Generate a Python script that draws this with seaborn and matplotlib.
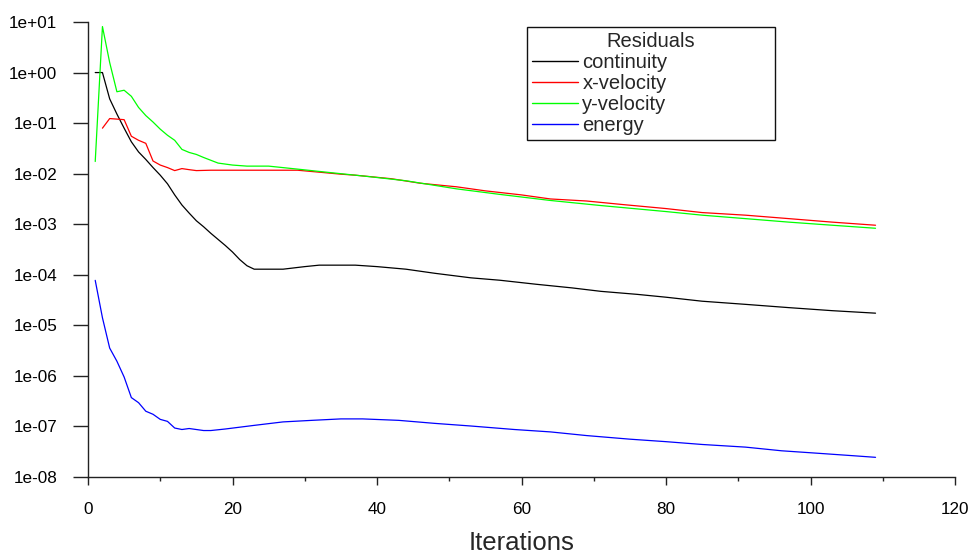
import matplotlib
matplotlib.use("Agg")
import matplotlib.pyplot as plt
import matplotlib.ticker as mticker
import seaborn as sns
import pandas as pd

# Residual histories (iteration, scaled residual)
continuity_iter = [1, 2, 3, 4, 5, 6, 7, 8, 9, 10, 11, 12, 13, 14, 15, 16, 17, 18, 19, 20,
                   21, 22, 23, 27, 30, 32, 37, 40, 44, 48, 53, 57, 62, 67, 71, 76, 80, 85,
                   91, 97, 103, 109]
continuity_res = [1.0, 1.0, 0.302, 0.151, 0.0794, 0.0427, 0.0269, 0.0191, 0.0132, 0.00933,
                  0.00631, 0.00380, 0.00240, 0.00166, 0.00117, 8.91e-4, 6.61e-4, 5.01e-4,
                  3.80e-4, 2.82e-4, 2.00e-4, 1.51e-4, 1.29e-4, 1.29e-4, 1.45e-4, 1.55e-4,
                  1.55e-4, 1.45e-4, 1.29e-4, 1.07e-4, 8.7e-5, 7.8e-5, 6.5e-5, 5.5e-5, 4.7e-5,
                  4.1e-5, 3.6e-5, 3.0e-5, 2.6e-5, 2.24e-5, 1.95e-5, 1.74e-5]

xvel_iter = [2, 3, 4, 5, 6, 7, 8, 9, 10, 11, 12, 13, 14, 15, 17, 29, 32, 35, 37, 42, 46, 51,
             55, 60, 64, 69, 74, 80, 85, 91, 97, 103, 109]
xvel_res = [0.0794, 0.123, 0.120, 0.117, 0.0550, 0.0457, 0.0398, 0.0178, 0.0148, 0.0132,
            0.0115, 0.0126, 0.0120, 0.0115, 0.0117, 0.0117, 0.0107, 0.00977, 0.00933,
            0.00794, 0.00646, 0.00550, 0.00457, 0.00380, 0.00316, 0.00288, 0.00245,
            0.00204, 0.00170, 0.00151, 0.00129, 0.00110, 9.55e-4]

yvel_iter = [1, 2, 3, 4, 5, 6, 7, 8, 9, 10, 11, 12, 13, 14, 15, 16, 18, 20, 22, 25, 29, 33,
             39, 44, 51, 57, 64, 71, 80, 85, 91, 97, 103, 109]
yvel_res = [0.0174, 8.13, 1.58, 0.417, 0.447, 0.339, 0.204, 0.141, 0.105, 0.0759, 0.0575,
            0.0457, 0.0302, 0.0263, 0.0240, 0.0209, 0.0162, 0.0148, 0.0141, 0.0141, 0.0123,
            0.0107, 0.00871, 0.00724, 0.00501, 0.00389, 0.00295, 0.00234, 0.00178,
            0.00151, 0.00129, 0.00110, 9.55e-4, 8.32e-4]

energy_iter = [1, 2, 3, 4, 5, 6, 7, 8, 9, 10, 11, 12, 13, 14, 16, 17, 19, 23, 27, 31, 35, 38,
               43, 48, 53, 59, 64, 69, 75, 80, 85, 91, 96, 101, 106, 109]
energy_res = [7.76e-5, 1.41e-5, 3.55e-6, 1.95e-6, 9.5e-7, 3.72e-7, 2.95e-7, 2.0e-7, 1.74e-7,
              1.38e-7, 1.26e-7, 9.3e-8, 8.7e-8, 9.1e-8, 8.3e-8, 8.3e-8, 8.9e-8, 1.05e-7,
              1.23e-7, 1.32e-7, 1.41e-7, 1.41e-7, 1.32e-7, 1.15e-7, 1.02e-7, 8.7e-8, 7.8e-8,
              6.6e-8, 5.6e-8, 5.0e-8, 4.4e-8, 3.9e-8, 3.3e-8, 2.95e-8, 2.63e-8, 2.45e-8]

series_names = ["continuity", "x-velocity", "y-velocity", "energy"]
series_colors = ["#000000", "#ff0000", "#00ff00", "#0000ff"]
y_major = [1e-08, 1e-07, 1e-06, 1e-05, 1e-04, 1e-03, 1e-02, 1e-01, 1e+00, 1e+01]
x_major = [0, 20, 40, 60, 80, 100, 120]

frames = []
for name, its, res in zip(series_names,
                          [continuity_iter, xvel_iter, yvel_iter, energy_iter],
                          [continuity_res, xvel_res, yvel_res, energy_res]):
    frames.append(pd.DataFrame({"Iterations": its, "Residual": res, "series": name}))
df = pd.concat(frames, ignore_index=True)

sns.set_style("ticks")
plt.rcParams["font.family"] = ["Liberation Sans", "DejaVu Sans"]

fig = plt.figure(figsize=(9.69, 5.54), dpi=100)
ax = fig.add_axes([88 / 969, 77 / 554, 867 / 969, 455 / 554])

palette = dict(zip(series_names, series_colors))
sns.lineplot(data=df, x="Iterations", y="Residual", hue="series", hue_order=series_names,
             palette=palette, estimator=None, sort=False, linewidth=0.9, ax=ax,
             legend=False)

ax.set_yscale("log")
ax.set_ylim(1e-08, 10)
ax.set_xlim(0, 120)

ax.yaxis.set_major_locator(mticker.FixedLocator(y_major))
ax.yaxis.set_major_formatter(mticker.FuncFormatter(lambda v, p: format(v, ".0e")))
ax.yaxis.set_minor_locator(mticker.LogLocator(base=10, subs=(1.7, 3.3, 5.7, 7.7)))
ax.yaxis.set_minor_formatter(mticker.NullFormatter())
ax.xaxis.set_major_locator(mticker.FixedLocator(x_major))
ax.xaxis.set_minor_locator(mticker.MultipleLocator(10))

spine_color = "#222222"
for side in ("top", "right"):
    ax.spines[side].set_visible(False)
for side in ("left", "bottom"):
    ax.spines[side].set_color(spine_color)
    ax.spines[side].set_linewidth(1.0)

ax.tick_params(axis="y", which="major", direction="out", length=11, width=1.0,
               color=spine_color, labelsize=12.3, pad=11, labelcolor="black")
ax.tick_params(axis="y", which="minor", direction="out", length=6, width=1.0,
               color=spine_color)
ax.tick_params(axis="x", which="major", direction="out", length=5.5, width=1.0,
               color=spine_color, labelsize=12.3, pad=12.5, labelcolor="black")
ax.tick_params(axis="x", which="minor", direction="out", length=3, width=1.0,
               color=spine_color)

ax.set_xlabel("Iterations", fontsize=18.5, labelpad=10)
ax.set_ylabel("")
ax.grid(False)

handles = [plt.Line2D([], [], color=c, linewidth=1.0) for c in series_colors]
leg = ax.legend(handles, series_names, title="Residuals",
                loc="upper left", mode="expand",
                bbox_to_anchor=(527 / 969, 419 / 554, 248 / 969, 108 / 554),
                bbox_transform=fig.transFigure, borderaxespad=0,
                fontsize=14.5, title_fontsize=14.5, frameon=True, fancybox=False,
                framealpha=1, edgecolor="#111111", borderpad=0.25,
                handlelength=2.3, handletextpad=0.2, labelspacing=0.1)
leg.get_frame().set_linewidth(1.0)

fig.savefig("out.png", dpi=100, facecolor="white")
